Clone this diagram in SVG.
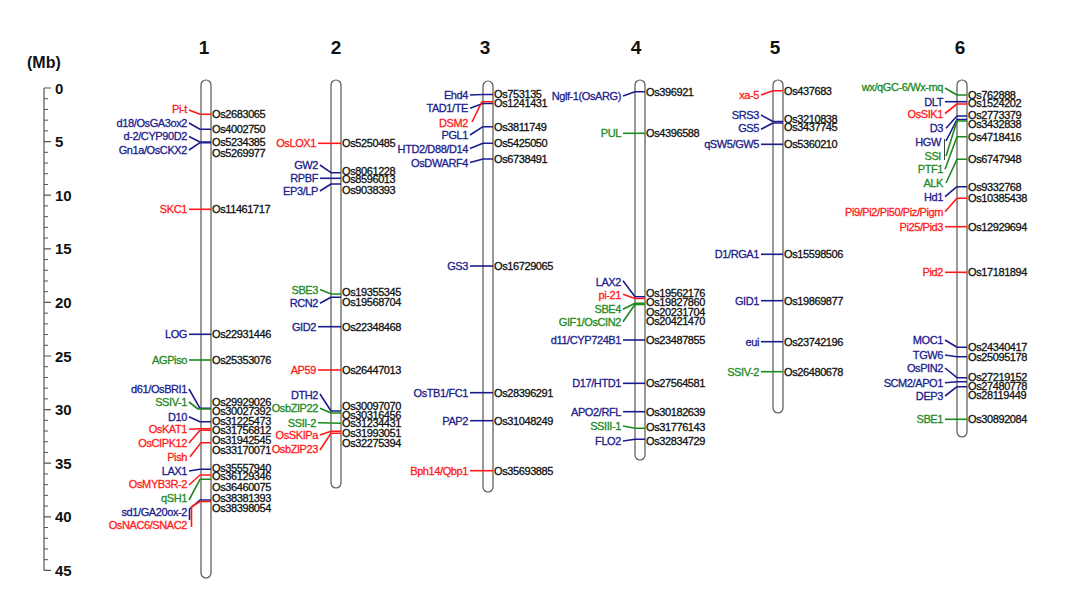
<svg xmlns="http://www.w3.org/2000/svg" width="1081" height="594" viewBox="0 0 1081 594">
<style>
text{font-family:"Liberation Sans",Arial,sans-serif}
.t{font-size:11px;letter-spacing:-0.4px;stroke-width:0.3px}
.L{text-anchor:end}
.r{fill:#ff1a1a;stroke:#ff1a1a}.b{fill:#1c1c8c;stroke:#1c1c8c}.g{fill:#1e8a1e;stroke:#1e8a1e}.k{fill:#111;stroke:#111}
.lr,.lb,.lg{fill:none;stroke-width:1.6;stroke-linejoin:round}
.lr{stroke:#ff1a1a}.lb{stroke:#1c1c8c}.lg{stroke:#1e8a1e}.lk{fill:none;stroke:#444;stroke-width:1}
.bar{fill:#fff;stroke:#555;stroke-width:1.2}
.num{font-size:19px;font-weight:bold;text-anchor:middle;fill:#111}
.sc{font-size:15px;font-weight:bold;fill:#111}
</style>
<rect width="1081" height="594" fill="#fff"/>
<g id="scale">
<text x="27" y="68" class="sc" style="font-size:16px">(Mb)</text>
<path d="M44 88V570.4" stroke="#555" stroke-width="1.2" fill="none"/>
<path stroke="#555" stroke-width="1" fill="none" d="M44 98.72h4M44 109.44h4M44 120.16h4M44 130.88h4M44 152.32h4M44 163.04h4M44 173.76h4M44 184.48h4M44 205.92h4M44 216.64h4M44 227.36h4M44 238.08h4M44 259.52h4M44 270.24h4M44 280.96h4M44 291.68h4M44 313.12h4M44 323.84h4M44 334.56h4M44 345.28h4M44 366.72h4M44 377.44h4M44 388.16h4M44 398.88h4M44 420.32h4M44 431.04h4M44 441.76h4M44 452.48h4M44 473.92h4M44 484.64h4M44 495.36h4M44 506.08h4M44 527.52h4M44 538.24h4M44 548.96h4M44 559.68h4"/>
<path stroke="#555" stroke-width="1.2" fill="none" d="M44 88h7M44 141.6h7M44 195.2h7M44 248.8h7M44 302.4h7M44 356h7M44 409.6h7M44 463.2h7M44 516.8h7M44 570.4h7"/>
<text class="sc" x="55" y="93.5">0</text>
<text class="sc" x="55" y="147">5</text>
<text class="sc" x="55" y="200.7">10</text>
<text class="sc" x="55" y="254.3">15</text>
<text class="sc" x="55" y="307.9">20</text>
<text class="sc" x="55" y="361.5">25</text>
<text class="sc" x="55" y="415.1">30</text>
<text class="sc" x="55" y="468.7">35</text>
<text class="sc" x="55" y="522.3">40</text>
<text class="sc" x="55" y="575.9">45</text>
</g>
<g id="chromosomes">
<g id="chr1"><text class="num" x="204" y="54">1</text><rect class="bar" x="201" y="80" width="10" height="498" rx="5"/></g>
<g id="chr2"><text class="num" x="336" y="54">2</text><rect class="bar" x="331" y="80" width="10" height="408" rx="5"/></g>
<g id="chr3"><text class="num" x="485" y="54">3</text><rect class="bar" x="483" y="81" width="10" height="411" rx="5"/></g>
<g id="chr4"><text class="num" x="636" y="54">4</text><rect class="bar" x="635" y="80" width="10" height="380" rx="5"/></g>
<g id="chr5"><text class="num" x="775" y="54">5</text><rect class="bar" x="773" y="80" width="10" height="333" rx="5"/></g>
<g id="chr6"><text class="num" x="960" y="54">6</text><rect class="bar" x="957" y="80" width="10" height="357" rx="5"/></g>
</g>
<g id="connectors">
<!-- chr1 -->
<polyline class="lr" points="189,110 200,114.3 211,114.3"/>
<polyline class="lb" points="189,123 200,129.3 211,129.3"/>
<polyline class="lb" points="189,136.5 200,142 211,142"/>
<polyline class="lb" points="189,150 200,142.7 211,142.7"/>
<polyline class="lr" points="189,209.3 211,209.3"/>
<polyline class="lb" points="189,334.3 211,334.3"/>
<polyline class="lg" points="189,360 211,360"/>
<polyline class="lb" points="189,389 200,408.3 211,408.3"/>
<polyline class="lg" points="189,402 198,409 211,409"/>
<polyline class="lb" points="189,416.7 200,421.7 211,421.7"/>
<polyline class="lr" points="189,429.3 200,428.7 211,428.7"/>
<polyline class="lr" points="189,443 200,430.3 211,430.3"/>
<polyline class="lr" points="190,456.7 201,442.7 211,442.7"/>
<polyline class="lb" points="189,471 200,469.3 211,469.3"/>
<polyline class="lr" points="189,485 200,475 211,475"/>
<polyline class="lg" points="189,500 200,479.3 211,479.3"/>
<polyline class="lb" points="189.5,520 189.5,509 200,500 211,500"/>
<polyline class="lr" points="191.5,527 191.5,507 200,501.5 211,501.5"/>
<!-- chr2 -->
<polyline class="lr" points="318,143.3 341,143.3"/>
<polyline class="lb" points="320,165 331,172.7 341,172.7"/>
<polyline class="lb" points="320,178.3 341,178.3"/>
<polyline class="lb" points="320,191 331,184 341,184"/>
<polyline class="lg" points="320,289.5 331,294 341,294"/>
<polyline class="lb" points="320,303.3 331,297.3 341,297.3"/>
<polyline class="lb" points="318,326.7 341,326.7"/>
<polyline class="lr" points="318,370 341,370"/>
<polyline class="lb" points="320,394 331,411 341,411"/>
<polyline class="lg" points="320,408.3 331,413 341,413"/>
<polyline class="lg" points="318,422.7 341,423.3"/>
<polyline class="lr" points="320,435 331,431.3 341,431.3"/>
<polyline class="lr" points="320,450 331,433.3 341,433.3"/>
<!-- chr3 -->
<polyline class="lb" points="470,95 483,94.5 493,94.5"/>
<polyline class="lb" points="470,108.3 483,103.5 493,103.5"/>
<polyline class="lr" points="472,122 482,101.7 493,101.7"/>
<polyline class="lb" points="470,135 483,126.7 493,126.7"/>
<polyline class="lb" points="470,148.5 483,143.3 493,143.3"/>
<polyline class="lb" points="470,162.5 483,159 493,159"/>
<polyline class="lb" points="470,266 493,266"/>
<polyline class="lb" points="470,392.7 493,392.7"/>
<polyline class="lb" points="470,420.7 493,420.7"/>
<polyline class="lr" points="470,470.7 493,470.7"/>
<!-- chr4 -->
<polyline class="lb" points="623,96 635,91.7 645,91.7"/>
<polyline class="lg" points="623,133.3 645,133.3"/>
<polyline class="lb" points="623,280.7 635,296.7 645,296.7"/>
<polyline class="lr" points="623,294.3 635,298.5 645,298.5"/>
<polyline class="lg" points="623,309.3 635,303.3 645,303.3"/>
<polyline class="lg" points="623,321.7 635,304.5 645,304.5"/>
<polyline class="lb" points="623,340 645,340"/>
<polyline class="lb" points="623,383.3 645,383.3"/>
<polyline class="lb" points="623,411.7 645,411.7"/>
<polyline class="lg" points="623,426 635,428.3 645,428.3"/>
<polyline class="lb" points="623,441 635,439.3 645,439.3"/>
<!-- chr5 -->
<polyline class="lr" points="761,95 773,90.7 783,90.7"/>
<polyline class="lb" points="761,115 773,121.5 783,121.5"/>
<polyline class="lb" points="761,129.3 773,123 783,123"/>
<polyline class="lb" points="761,144.3 783,144.3"/>
<polyline class="lb" points="761,254.3 783,254.3"/>
<polyline class="lb" points="761,300.7 783,300.7"/>
<polyline class="lb" points="761,341.7 783,341.7"/>
<polyline class="lg" points="761,371.7 783,371.7"/>
<!-- chr6 -->
<polyline class="lg" points="945,88 957,95 967,95"/>
<polyline class="lb" points="945,101.7 957,101.7 967,101.7"/>
<polyline class="lr" points="945,113.5 957,104 967,104"/>
<polyline class="lb" points="946,128.3 957,116 967,116"/>
<polyline class="lk" points="944.5,139 944.5,160"/>
<polyline class="lb" points="946,141 957,119.5 967,119.5"/>
<polyline class="lg" points="946,156 957,121 967,121"/>
<polyline class="lg" points="945,169.3 957,136.7 967,136.7"/>
<polyline class="lg" points="946,183 957,159.3 967,159.3"/>
<polyline class="lb" points="945,196.7 957,186.7 967,186.7"/>
<polyline class="lr" points="945,211.7 957,198.3 967,198.3"/>
<polyline class="lr" points="945,226.7 967,226.7"/>
<polyline class="lr" points="945,272.3 967,272.3"/>
<polyline class="lb" points="945,340 957,347.3 967,347.3"/>
<polyline class="lb" points="945,355 957,356.7 967,356.7"/>
<polyline class="lb" points="945,368 957,377.7 967,377.7"/>
<polyline class="lb" points="945,382.7 957,381.7 967,381.7"/>
<polyline class="lb" points="945,396 957,386.7 967,386.7"/>
<polyline class="lg" points="945,419.3 967,419.3"/>
</g>
<g id="labels-chr1" class="t">
<g id="m-Pi-t"><text class="L r" x="187" y="113.3">Pi-t</text><text class="k" x="212" y="118.3">Os2683065</text></g>
<g id="m-d18"><text class="L b" x="187" y="126.7">d18/OsGA3ox2</text><text class="k" x="212" y="133.3">Os4002750</text></g>
<g id="m-d2"><text class="L b" x="187" y="140">d-2/CYP90D2</text><text class="k" x="212" y="146">Os5234385</text></g>
<g id="m-Gn1a"><text class="L b" x="187" y="154">Gn1a/OsCKX2</text><text class="k" x="212" y="157.3">Os5269977</text></g>
<g id="m-SKC1"><text class="L r" x="187" y="213.3">SKC1</text><text class="k" x="212" y="213.3">Os11461717</text></g>
<g id="m-LOG"><text class="L b" x="187" y="338.3">LOG</text><text class="k" x="212" y="338.3">Os22931446</text></g>
<g id="m-AGPiso"><text class="L g" x="187" y="364">AGPiso</text><text class="k" x="212" y="364">Os25353076</text></g>
<g id="m-d61"><text class="L b" x="187" y="393.3">d61/OsBRI1</text><text class="k" x="212" y="405.7">Os29929026</text></g>
<g id="m-SSIV-1"><text class="L g" x="187" y="405.7">SSIV-1</text><text class="k" x="212" y="414.7">Os30027392</text></g>
<g id="m-D10"><text class="L b" x="187" y="420.7">D10</text><text class="k" x="212" y="424.7">Os31225473</text></g>
<g id="m-OsKAT1"><text class="L r" x="187" y="433.3">OsKAT1</text><text class="k" x="212" y="434">Os31756812</text></g>
<g id="m-OsCIPK12"><text class="L r" x="187" y="447.3">OsCIPK12</text><text class="k" x="212" y="444">Os31942545</text></g>
<g id="m-Pish"><text class="L r" x="187" y="460.7">Pish</text><text class="k" x="212" y="454">Os33170071</text></g>
<g id="m-LAX1"><text class="L b" x="187" y="475">LAX1</text><text class="k" x="212" y="472.3">Os35557940</text></g>
<g id="m-OsMYB3R-2"><text class="L r" x="187" y="488.3">OsMYB3R-2</text><text class="k" x="212" y="480.3">Os36129346</text></g>
<g id="m-qSH1"><text class="L g" x="187" y="502.3">qSH1</text><text class="k" x="212" y="490.7">Os36460075</text></g>
<g id="m-sd1"><text class="L b" x="187" y="516.3">sd1/GA20ox-2</text><text class="k" x="212" y="502.3">Os38381393</text></g>
<g id="m-OsNAC6"><text class="L r" x="187" y="529">OsNAC6/SNAC2</text><text class="k" x="212" y="512.3">Os38398054</text></g>
</g>
<g id="labels-chr2" class="t">
<g id="m-OsLOX1"><text class="L r" x="316" y="147.3">OsLOX1</text><text class="k" x="342" y="147.3">Os5250485</text></g>
<g id="m-GW2"><text class="L b" x="318" y="169">GW2</text><text class="k" x="342" y="174.7">Os8061228</text></g>
<g id="m-RPBF"><text class="L b" x="318" y="182.3">RPBF</text><text class="k" x="342" y="183.3">Os8596013</text></g>
<g id="m-EP3"><text class="L b" x="318" y="195">EP3/LP</text><text class="k" x="342" y="194">Os9038393</text></g>
<g id="m-SBE3"><text class="L g" x="318" y="294">SBE3</text><text class="k" x="342" y="295.7">Os19355345</text></g>
<g id="m-RCN2"><text class="L b" x="318" y="307.3">RCN2</text><text class="k" x="342" y="305.7">Os19568704</text></g>
<g id="m-GID2"><text class="L b" x="316" y="330.7">GID2</text><text class="k" x="342" y="330.7">Os22348468</text></g>
<g id="m-AP59"><text class="L r" x="316" y="374">AP59</text><text class="k" x="342" y="374">Os26447013</text></g>
<g id="m-DTH2"><text class="L b" x="318" y="399">DTH2</text><text class="k" x="342" y="410">Os30097070</text></g>
<g id="m-OsbZIP22"><text class="L g" x="318" y="412.3">OsbZIP22</text><text class="k" x="342" y="419">Os30316456</text></g>
<g id="m-SSII-2"><text class="L g" x="316" y="426.7">SSII-2</text><text class="k" x="342" y="427.3">Os31234431</text></g>
<g id="m-OsSKIPa"><text class="L r" x="318" y="439">OsSKIPa</text><text class="k" x="342" y="437.3">Os31993051</text></g>
<g id="m-OsbZIP23"><text class="L r" x="318" y="453.3">OsbZIP23</text><text class="k" x="342" y="447.3">Os32275394</text></g>
</g>
<g id="labels-chr3" class="t">
<g id="m-Ehd4"><text class="L b" x="468" y="99">Ehd4</text><text class="k" x="494" y="98.3">Os753135</text></g>
<g id="m-TAD1"><text class="L b" x="468" y="112.3">TAD1/TE</text><text class="k" x="494" y="107.3">Os1241431</text></g>
<g id="m-DSM2"><text class="L r" x="468" y="126.7">DSM2</text></g>
<g id="m-PGL1"><text class="L b" x="468" y="139">PGL1</text><text class="k" x="494" y="130.7">Os3811749</text></g>
<g id="m-HTD2"><text class="L b" x="468" y="153.3">HTD2/D88/D14</text><text class="k" x="494" y="147.3">Os5425050</text></g>
<g id="m-OsDWARF4"><text class="L b" x="468" y="167.3">OsDWARF4</text><text class="k" x="494" y="163">Os6738491</text></g>
<g id="m-GS3"><text class="L b" x="468" y="270">GS3</text><text class="k" x="494" y="270">Os16729065</text></g>
<g id="m-OsTB1"><text class="L b" x="468" y="396.7">OsTB1/FC1</text><text class="k" x="494" y="396.7">Os28396291</text></g>
<g id="m-PAP2"><text class="L b" x="468" y="424.7">PAP2</text><text class="k" x="494" y="424.7">Os31048249</text></g>
<g id="m-Bph14"><text class="L r" x="468" y="474.7">Bph14/Qbp1</text><text class="k" x="494" y="474.7">Os35693885</text></g>
</g>
<g id="labels-chr4" class="t">
<g id="m-Nglf1"><text class="L b" x="621" y="100">Nglf-1(OsARG)</text><text class="k" x="646" y="95.7">Os396921</text></g>
<g id="m-PUL"><text class="L g" x="621" y="137.3">PUL</text><text class="k" x="646" y="137.3">Os4396588</text></g>
<g id="m-LAX2"><text class="L b" x="621" y="285.7">LAX2</text><text class="k" x="646" y="297.3">Os19562176</text></g>
<g id="m-pi21"><text class="L r" x="621" y="299">pi-21</text><text class="k" x="646" y="306.3">Os19827860</text></g>
<g id="m-SBE4"><text class="L g" x="621" y="313.3">SBE4</text><text class="k" x="646" y="315.7">Os20231704</text></g>
<g id="m-GIF1"><text class="L g" x="621" y="325.7">GIF1/OsCIN2</text><text class="k" x="646" y="325">Os20421470</text></g>
<g id="m-d11"><text class="L b" x="621" y="344">d11/CYP724B1</text><text class="k" x="646" y="344">Os23487855</text></g>
<g id="m-D17"><text class="L b" x="621" y="387.3">D17/HTD1</text><text class="k" x="646" y="387.3">Os27564581</text></g>
<g id="m-APO2"><text class="L b" x="621" y="415.7">APO2/RFL</text><text class="k" x="646" y="415.7">Os30182639</text></g>
<g id="m-SSIII1"><text class="L g" x="621" y="430">SSIII-1</text><text class="k" x="646" y="430.7">Os31776143</text></g>
<g id="m-FLO2"><text class="L b" x="621" y="445">FLO2</text><text class="k" x="646" y="444.7">Os32834729</text></g>
</g>
<g id="labels-chr5" class="t">
<g id="m-xa5"><text class="L r" x="759" y="99">xa-5</text><text class="k" x="784" y="94.7">Os437683</text></g>
<g id="m-SRS3"><text class="L b" x="759" y="119">SRS3</text><text class="k" x="784" y="123.3">Os3210838</text></g>
<g id="m-GS5"><text class="L b" x="759" y="132.3">GS5</text><text class="k" x="784" y="131.3">Os3437745</text></g>
<g id="m-qSW5"><text class="L b" x="759" y="148.3">qSW5/GW5</text><text class="k" x="784" y="148.3">Os5360210</text></g>
<g id="m-D1"><text class="L b" x="759" y="258.3">D1/RGA1</text><text class="k" x="784" y="258.3">Os15598506</text></g>
<g id="m-GID1"><text class="L b" x="759" y="304.7">GID1</text><text class="k" x="784" y="304.7">Os19869877</text></g>
<g id="m-eui"><text class="L b" x="759" y="345.7">eui</text><text class="k" x="784" y="345.7">Os23742196</text></g>
<g id="m-SSIV2"><text class="L g" x="759" y="375.7">SSIV-2</text><text class="k" x="784" y="375.7">Os26480678</text></g>
</g>
<g id="labels-chr6" class="t">
<g id="m-wx"><text class="L g" x="943" y="91.3">wx/qGC-6/Wx-mq</text><text class="k" x="968" y="99">Os762888</text></g>
<g id="m-DLT"><text class="L b" x="943" y="105.7">DLT</text><text class="k" x="968" y="107.3">Os1524202</text></g>
<g id="m-OsSIK1"><text class="L r" x="943" y="118.3">OsSIK1</text></g>
<g id="m-D3"><text class="L b" x="943" y="132.3">D3</text><text class="k" x="968" y="119">Os2773379</text></g>
<g id="m-HGW"><text class="L b" x="941" y="145.7">HGW</text><text class="k" x="968" y="128">Os3432838</text></g>
<g id="m-SSI"><text class="L g" x="941" y="160">SSI</text></g>
<g id="m-PTF1"><text class="L g" x="943" y="173.3">PTF1</text><text class="k" x="968" y="140.7">Os4718416</text></g>
<g id="m-ALK"><text class="L g" x="943" y="187.3">ALK</text><text class="k" x="968" y="163.3">Os6747948</text></g>
<g id="m-Hd1"><text class="L b" x="943" y="200.7">Hd1</text><text class="k" x="968" y="190.7">Os9332768</text></g>
<g id="m-Pi9"><text class="L r" x="943" y="215.7">Pi9/Pi2/Pi50/Piz/Pigm</text><text class="k" x="968" y="202.3">Os10385438</text></g>
<g id="m-Pi25"><text class="L r" x="943" y="230.7">Pi25/Pid3</text><text class="k" x="968" y="230.7">Os12929694</text></g>
<g id="m-Pid2"><text class="L r" x="943" y="276.3">Pid2</text><text class="k" x="968" y="276.3">Os17181894</text></g>
<g id="m-MOC1"><text class="L b" x="943" y="344">MOC1</text><text class="k" x="968" y="351.3">Os24340417</text></g>
<g id="m-TGW6"><text class="L b" x="943" y="359">TGW6</text><text class="k" x="968" y="361.3">Os25095178</text></g>
<g id="m-OsPIN2"><text class="L b" x="943" y="372.3">OsPIN2</text><text class="k" x="968" y="380.7">Os27219152</text></g>
<g id="m-SCM2"><text class="L b" x="943" y="386.7">SCM2/APO1</text><text class="k" x="968" y="390">Os27480778</text></g>
<g id="m-DEP3"><text class="L b" x="943" y="400">DEP3</text><text class="k" x="968" y="398.7">Os28119449</text></g>
<g id="m-SBE1"><text class="L g" x="943" y="423.3">SBE1</text><text class="k" x="968" y="423.3">Os30892084</text></g>
</g>
</svg>
